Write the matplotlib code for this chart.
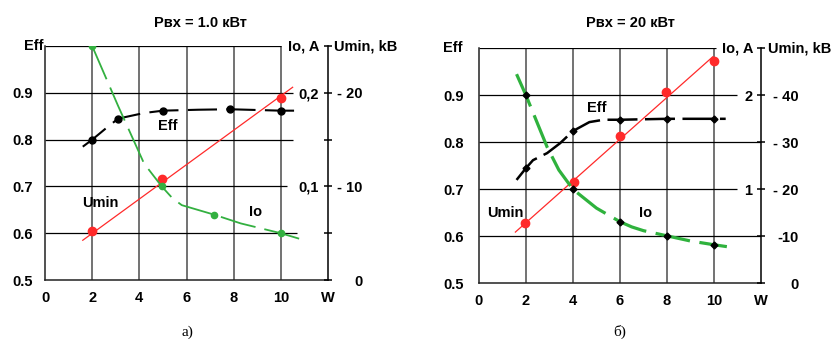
import matplotlib.pyplot as plt

plt.rcParams['font.family'] = ['Liberation Sans', 'DejaVu Sans']
plt.rcParams['font.weight'] = 'bold'
plt.rcParams['font.size'] = 10

# ---------------- panel a) Pвх = 1.0 кВт ----------------
a_eff_x = [1.6, 2.0, 2.6, 3.1, 4.2, 5.0, 6.5, 7.85, 10.0, 10.6]
a_eff_y = [0.785, 0.80, 0.825, 0.845, 0.857, 0.862, 0.864, 0.865, 0.862, 0.862]
a_eff_mx = [2.0, 3.1, 5.0, 7.85, 10.0]
a_eff_my = [0.80, 0.845, 0.862, 0.865, 0.862]

a_io_x = [2.0, 3.1, 4.2, 4.95, 5.4, 5.8, 7.15, 8.3, 10.0, 10.8]
a_io_y = [0.25, 0.186, 0.1245, 0.10, 0.0875, 0.08, 0.07, 0.0605, 0.05, 0.044]
a_io_mx = [2.0, 4.95, 7.15, 10.0]
a_io_my = [0.25, 0.10, 0.07, 0.05]

a_um_x = [1.6, 10.5]
a_um_y = [4.25, 20.6]
a_um_mx = [2.0, 4.95, 10.0]
a_um_my = [5.25, 10.75, 19.5]

# ---------------- panel б) Pвх = 20 кВт ----------------
b_eff_x = [1.6, 2.0, 2.3, 2.9, 3.45, 4.0, 4.7, 5.3, 6.0, 8.0, 10.0, 10.5]
b_eff_y = [0.72, 0.745, 0.762, 0.777, 0.798, 0.824, 0.843, 0.848, 0.848, 0.85, 0.85, 0.85]
b_eff_mx = [2.0, 4.0, 6.0, 8.0, 10.0]
b_eff_my = [0.745, 0.824, 0.848, 0.85, 0.85]

b_io_x = [1.6, 2.0, 2.9, 3.4, 4.0, 5.0, 6.0, 6.5, 7.0, 8.0, 9.0, 10.0, 10.55]
b_io_y = [2.225, 2.0, 1.45, 1.205, 1.0, 0.80, 0.655, 0.60, 0.56, 0.505, 0.45, 0.41, 0.39]
b_io_mx = [2.0, 4.0, 6.0, 8.0, 10.0]
b_io_my = [2.0, 1.0, 0.655, 0.505, 0.41]

b_um_x = [1.55, 9.95]
b_um_y = [10.9, 48.2]
b_um_mx = [1.95, 4.05, 6.0, 7.95, 10.0]
b_um_my = [12.8, 21.6, 31.3, 40.8, 47.4]

x_ticks = [0, 2, 4, 6, 8, 10, 12]
x_labels = ['0', '2', '4', '6', '8', '10', 'W']
eff_ticks = [0.5, 0.6, 0.7, 0.8, 0.9]
eff_labels = ['0.5', '0.6', '0.7', '0.8', '0.9']


def setup(ax, hlines, eff_pad):
    ax.set_xlim(0, 12)
    ax.set_ylim(0.5, 1.0)
    ax.set_xticks(x_ticks)
    ax.set_xticklabels(x_labels)
    ax.set_yticks(eff_ticks)
    ax.set_yticklabels(eff_labels)
    ax.tick_params(axis='x', length=0, pad=8, labelsize=10.5)
    ax.tick_params(axis='y', length=0, pad=eff_pad, labelsize=10.5)
    ax.spines['top'].set_visible(False)
    ax.spines['right'].set_visible(False)
    for s in ['left', 'bottom']:
        ax.spines[s].set_linewidth(1.1)
        ax.spines[s].set_color('#222222')
    for xv in [2, 4, 6, 8, 10]:
        ax.axvline(xv, color='#5a5a5a', lw=1.2, zorder=1)
    for yv, xe in hlines:
        ax.hlines(yv, 0, xe, color='black', lw=0.9, zorder=1)


def umin_axis(ax, top, step, labels, pad):
    au = ax.twinx()
    au.set_ylim(0, top)
    au.set_yticks([i * step for i in range(len(labels))])
    au.set_yticklabels(labels)
    for s in ['left', 'top', 'bottom']:
        au.spines[s].set_visible(False)
    au.spines['right'].set_linewidth(1.1)
    au.tick_params(axis='y', direction='inout', length=6, width=1.1, pad=pad, labelsize=10.5)
    for lbl in au.get_yticklabels():
        lbl.set_horizontalalignment('right')
    return au


def io_axis(ax, top, ticks, labels, pos):
    ai = ax.twinx()
    ai.set_ylim(0, top)
    ai.set_yticks(ticks)
    ai.set_yticklabels(labels)
    for s in ai.spines.values():
        s.set_visible(False)
    ai.spines['right'].set_position(('axes', pos))
    ai.tick_params(axis='y', length=0, pad=1, labelsize=10.5)
    return ai


fig = plt.figure(figsize=(8.34, 3.39), dpi=100)

# ---------------- а) ----------------
ax1 = fig.add_axes([0.054, 0.174, 0.3393, 0.690])
setup(ax1, [(1.0, 10.0), (0.9, 10.5), (0.8, 10.5), (0.7, 10.25), (0.6, 10.7)], 9)
au1 = umin_axis(ax1, 25, 5, ['0', '', '- 10', '', '- 20', ''], 22)
ai1 = io_axis(ax1, 0.25, [0.1, 0.2], ['0,1', '0,2'], 0.89)

ax1.plot(a_eff_x, a_eff_y, color='black', lw=1.5, dashes=(14, 4.5), zorder=3)
ax1.plot(a_eff_mx, a_eff_my, 'o', color='black', ms=5, zorder=4)
ai1.plot(a_io_x, a_io_y, color='#33b040', lw=1.3, dashes=(20, 5), zorder=3)
ai1.plot(a_io_mx, a_io_my, 'o', color='#33b040', ms=4.5, zorder=4)
au1.plot(a_um_x, a_um_y, color='#ff2a2a', lw=0.9, zorder=3)
au1.plot(a_um_mx, a_um_my, 'o', color='#ff2a2a', ms=6, zorder=4)

ax1.text(-0.007, 1.0, 'Eff', transform=ax1.transAxes, ha='right', va='center', fontsize=10.5)
ax1.text(0.859, 1.0, 'Io, A', transform=ax1.transAxes, ha='left', va='center', fontsize=10.5)
ax1.text(1.02, 1.0, 'Umin, kB', transform=ax1.transAxes, ha='left', va='center', fontsize=10.5)
ax1.text(5.22, 0.829, 'Eff', ha='center', va='center', fontsize=10.5)
ax1.text(2.33, 0.665, 'Umin', ha='center', va='center', fontsize=10.5)
ax1.text(8.94, 0.645, 'Io', ha='center', va='center', fontsize=10.5)

fig.text(0.2398, 0.933, 'Рвх = 1.0 кВт', ha='center', va='center', fontsize=10.5)
fig.text(0.2242, 0.02, 'а)', ha='center', va='center', fontsize=11,
         family='Liberation Serif', weight='normal')

# ---------------- б) ----------------
ax2 = fig.add_axes([0.5743, 0.1643, 0.3381, 0.6932])
setup(ax2, [(1.0, 10.1), (0.9, 11.0), (0.8, 12.0), (0.7, 11.0), (0.6, 12.0)], 11)
au2 = umin_axis(ax2, 50, 10, ['0', '-10', '- 20', '- 30', '- 40', ''], 24)
ai2 = io_axis(ax2, 2.5, [1, 2], ['1', '2'], 0.935)

ax2.plot(b_eff_x, b_eff_y, color='black', lw=1.8, dashes=(12, 3), zorder=3)
ax2.plot(b_eff_mx, b_eff_my, 'D', color='black', ms=3.5, zorder=5)
ai2.plot(b_io_x, b_io_y, color='#2fb23d', lw=2.3, dashes=(11, 3), zorder=3)
ai2.plot(b_io_mx, b_io_my, 'D', color='black', ms=3.5, zorder=5)
au2.plot(b_um_x, b_um_y, color='#ff2a2a', lw=0.9, zorder=3)
au2.plot(b_um_mx, b_um_my, 'o', color='#ff2a2a', ms=6, zorder=4)

ax2.text(-0.057, 1.0, 'Eff', transform=ax2.transAxes, ha='right', va='center', fontsize=10.5)
ax2.text(0.862, 1.0, 'Io, A', transform=ax2.transAxes, ha='left', va='center', fontsize=10.5)
ax2.text(1.025, 1.0, 'Umin, kB', transform=ax2.transAxes, ha='left', va='center', fontsize=10.5)
ax2.text(5.0, 0.872, 'Eff', ha='center', va='center', fontsize=10.5)
ax2.text(1.13, 0.65, 'Umin', ha='center', va='center', fontsize=10.5)
ax2.text(7.1, 0.65, 'Io', ha='center', va='center', fontsize=10.5)

fig.text(0.7554, 0.931, 'Рвх = 20 кВт', ha='center', va='center', fontsize=10.5)
fig.text(0.7434, 0.02, 'б)', ha='center', va='center', fontsize=11,
         family='Liberation Serif', weight='normal')

fig.savefig('out.png', dpi=100, facecolor='white')
